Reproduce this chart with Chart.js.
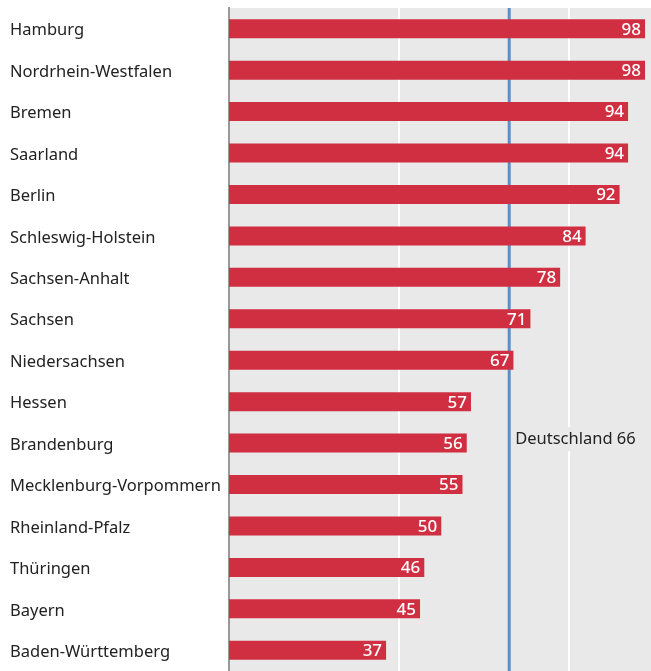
<!DOCTYPE html>
<html>
<head>
<meta charset="utf-8">
<script src="https://cdn.jsdelivr.net/npm/chart.js@4"></script>
<style>
  html, body { margin: 0; padding: 0; background: #fff; }
  #wrap { width: 651px; height: 671px; position: relative; }
</style>
</head>
<body>
<div id="wrap"><canvas id="chart"></canvas></div>
<script>
// -------------------------------
// Data
// -------------------------------
const states = ['Hamburg', 'Nordrhein-Westfalen', 'Bremen', 'Saarland', 'Berlin',
  'Schleswig-Holstein', 'Sachsen-Anhalt', 'Sachsen', 'Niedersachsen', 'Hessen',
  'Brandenburg', 'Mecklenburg-Vorpommern', 'Rheinland-Pfalz', 'Thüringen',
  'Bayern', 'Baden-Württemberg'];
const values = [98, 98, 94, 94, 92, 84, 78, 71, 67, 57, 56, 55, 50, 46, 45, 37];
const gridTicks = [40, 80];
const nationalValue = 66;
const nationalLabel = 'Deutschland 66';
const labelRow = 'Brandenburg';

const FONT = '"Noto Sans", sans-serif';

// -------------------------------
// Plugins
// -------------------------------
const backgroundPlugin = {
  id: 'plotBg',
  beforeDraw(chart) {
    const { ctx, chartArea: a } = chart;
    ctx.save();
    ctx.fillStyle = '#e9e9e9';
    ctx.fillRect(a.left, a.top, a.right - a.left, a.bottom - a.top);
    ctx.restore();
  }
};

const averagePlugin = {
  id: 'average',
  beforeDatasetsDraw(chart) {
    const { ctx, chartArea: a, scales } = chart;
    const x = scales.x.getPixelForValue(nationalValue);
    const y = scales.y.getPixelForValue(states.indexOf(labelRow)) - 4;
    ctx.save();
    ctx.font = '16.5px ' + FONT;
    ctx.textBaseline = 'middle';
    const w = ctx.measureText(nationalLabel).width;
    ctx.fillStyle = '#e9e9e9';
    ctx.fillRect(x + 3, y - 12, w + 8, 24);
    ctx.fillStyle = '#222';
    ctx.fillText(nationalLabel, x + 6, y);
    ctx.strokeStyle = '#5b8fcb';
    ctx.lineWidth = 3;
    ctx.beginPath();
    ctx.moveTo(x, a.top);
    ctx.lineTo(x, a.bottom);
    ctx.stroke();
    ctx.restore();
  }
};

const valueLabels = {
  id: 'valueLabels',
  afterDatasetsDraw(chart) {
    const { ctx } = chart;
    const meta = chart.getDatasetMeta(0);
    ctx.save();
    ctx.font = '500 17px ' + FONT;
    ctx.fillStyle = '#fff';
    ctx.textAlign = 'right';
    ctx.textBaseline = 'middle';
    meta.data.forEach((bar, i) => {
      ctx.fillText(values[i], bar.x - 4, bar.y + 1);
    });
    ctx.restore();
  }
};

// -------------------------------
// Chart
// -------------------------------
new Chart(document.getElementById('chart'), {
  type: 'bar',
  data: {
    labels: states,
    datasets: [{
      data: values,
      backgroundColor: '#d02f42',
      categoryPercentage: 1,
      barPercentage: 0.46
    }]
  },
  options: {
    indexAxis: 'y',
    responsive: true,
    maintainAspectRatio: false,
    animation: false,
    layout: { padding: { left: 10, top: 8, right: 0, bottom: 0 } },
    plugins: { legend: { display: false }, tooltip: { enabled: false } },
    scales: {
      x: {
        min: 0,
        max: 99.4,
        afterBuildTicks: scale => { scale.ticks = gridTicks.map(v => ({ value: v })); },
        afterFit: scale => { scale.height = 0; scale.paddingLeft = 0; scale.paddingRight = 0; },
        ticks: { display: false, padding: 0 },
        grid: { color: '#fff', lineWidth: 2, drawTicks: false },
        border: { display: false }
      },
      y: {
        afterFit: scale => { scale.width = 219; scale.paddingTop = 0; scale.paddingBottom = 0; },
        ticks: {
          crossAlign: 'far',
          labelOffset: 2,
          color: '#222',
          font: { family: FONT, size: 16.5 }
        },
        grid: { display: false, drawTicks: false },
        border: { color: '#999', width: 2 }
      }
    }
  },
  plugins: [backgroundPlugin, averagePlugin, valueLabels]
});
</script>
</body>
</html>
